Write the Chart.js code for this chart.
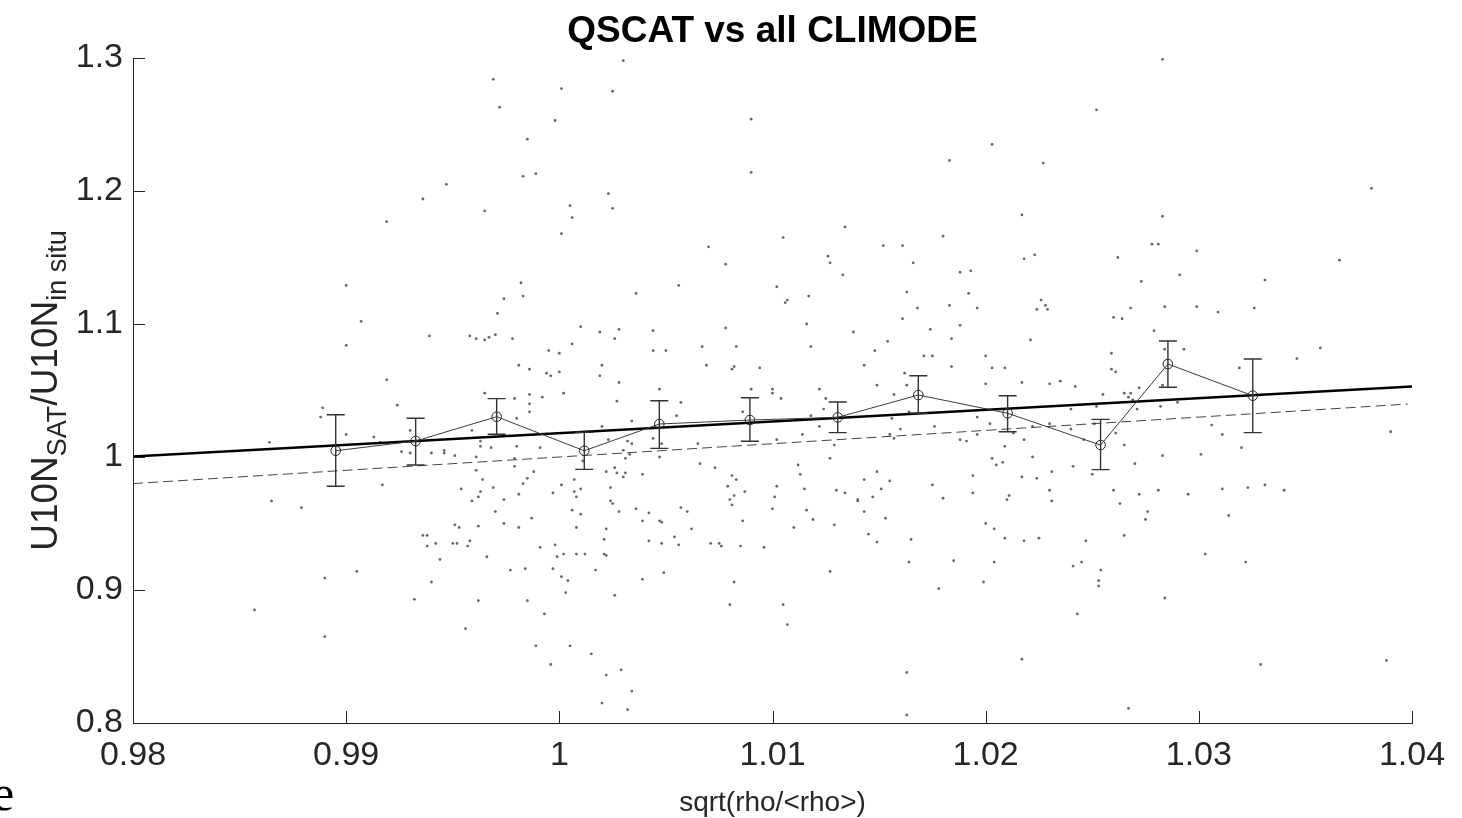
<!DOCTYPE html>
<html>
<head>
<meta charset="utf-8">
<script src="https://cdn.jsdelivr.net/npm/chart.js@4.4.1/dist/chart.umd.min.js"></script>
<style>
  body { margin: 0; background: #fff; }
</style>
</head>
<body>
<canvas id="myChart" width="1462" height="818"></canvas>
<script>
// tick values
const xTicks = [0.98, 0.99, 1, 1.01, 1.02, 1.03, 1.04];
const yTicks = [0.8, 0.9, 1, 1.1, 1.2, 1.3];

// individual collocations [sqrt(rho/<rho>), U10N ratio]
const scatterPts = [
  [0.9969,1.284],[1.0001,1.277],[0.9972,1.263],[0.9998,1.253],[0.9985,1.239],[0.9983,1.211],[0.9989,1.213],[0.9947,1.205],
  [0.9936,1.194],[0.9919,1.177],[0.9965,1.185],[1.0005,1.189],[1.0006,1.180],[1.0001,1.168],[0.9900,1.129],[0.9907,1.102],
  [0.9900,1.084],[0.9982,1.131],[0.9974,1.119],[0.9983,1.121],[0.9971,1.108],[0.9939,1.091],[0.9958,1.091],[0.9961,1.089],
  [0.9965,1.088],[0.9967,1.090],[0.9970,1.092],[0.9978,1.089],[0.9995,1.080],[1.0000,1.078],[1.0006,1.085],[0.9981,1.069],
  [0.9986,1.066],[0.9994,1.063],[0.9996,1.061],[1.0000,1.064],
  [1.0030,1.298],[1.0025,1.275],[1.0090,1.254],[1.0090,1.214],[1.0023,1.198],[1.0025,1.187],[1.0203,1.235],[1.0183,1.223],
  [1.0134,1.173],[1.0105,1.165],[1.0070,1.158],[1.0078,1.145],[1.0126,1.151],[1.0127,1.146],[1.0133,1.137],[1.0152,1.159],
  [1.0161,1.159],[1.0166,1.146],[1.0180,1.166],[1.0188,1.139],[1.0193,1.140],[1.0056,1.129],[1.0036,1.123],[1.0102,1.128],
  [1.0107,1.118],[1.0106,1.116],[1.0117,1.121],[1.0163,1.124],[1.0168,1.112],[1.0183,1.114],[1.0192,1.123],[1.0196,1.112],
  [1.0010,1.098],[1.0019,1.094],[1.0028,1.096],[1.0026,1.089],[1.0044,1.095],[1.0044,1.080],[1.0050,1.080],[1.0067,1.083],
  [1.0083,1.083],[1.0078,1.097],[1.0116,1.100],[1.0118,1.083],[1.0138,1.094],[1.0161,1.104],[1.0174,1.096],[1.0188,1.099],
  [1.0184,1.089],[1.0154,1.087],[1.0148,1.080],[1.0200,1.076],[1.0171,1.076],[1.0175,1.076],[1.0020,1.069],[1.0019,1.061],
  [1.0069,1.069],[1.0082,1.068],[1.0081,1.066],[1.0094,1.067],[1.0143,1.069],[1.0162,1.063],[1.0184,1.068],[1.0203,1.067],
  [1.0283,1.299],[1.0252,1.261],[1.0227,1.221],[1.0381,1.202],[1.0217,1.182],[1.0283,1.181],[1.0278,1.160],[1.0281,1.160],
  [1.0299,1.155],[1.0218,1.149],[1.0223,1.152],[1.0262,1.150],[1.0366,1.148],[1.0291,1.137],[1.0273,1.132],[1.0331,1.133],
  [1.0226,1.118],[1.0228,1.114],[1.0224,1.111],[1.0229,1.111],[1.0268,1.112],[1.0284,1.113],[1.0299,1.113],[1.0309,1.109],
  [1.0326,1.112],[1.0260,1.105],[1.0264,1.104],[1.0279,1.095],[1.0221,1.088],[1.0259,1.078],[1.0293,1.081],[1.0357,1.082],
  [1.0346,1.074],[1.0209,1.067],[1.0259,1.066],[1.0261,1.064],[1.0319,1.067],[1.0284,1.081],
  [0.9919,1.058],[0.9965,1.048],[0.9979,1.044],[0.9986,1.047],[0.9992,1.045],[1.0002,1.048],[0.9986,1.040],[0.9986,1.034],
  [0.9889,1.037],[0.9888,1.030],[0.9924,1.039],[0.9900,1.017],[0.9913,1.015],[0.9916,1.011],[0.9930,1.020],[0.9926,1.004],
  [0.9930,1.003],[0.9940,1.003],[0.9946,1.005],[0.9946,1.003],[0.9951,1.001],[0.9959,1.020],[0.9963,1.012],[0.9963,1.008],
  [0.9968,1.007],[0.9980,1.008],[0.9980,1.029],[0.9991,1.007],[0.9864,1.011],
  [0.9961,1.000],[0.9979,0.999],[0.9979,0.993],[0.9988,0.989],[0.9961,0.990],[0.9964,0.983],[0.9963,0.974],[0.9962,0.970],
  [0.9959,0.967],[0.9954,0.976],[0.9969,0.977],[0.9974,0.968],[0.9970,0.959],[0.9985,0.984],[0.9983,0.980],[0.9981,0.972],
  [1.0001,0.979],[0.9997,0.973],[1.0007,0.983],[1.0007,0.974],[1.0008,0.970],[1.0006,0.960],[1.0008,0.947],[0.9987,0.954],
  [0.9974,0.950],[0.9981,0.947],[0.9962,0.948],[0.9951,0.949],[0.9953,0.947],[0.9936,0.941],[0.9938,0.941],[0.9938,0.933],
  [0.9942,0.935],[0.9950,0.935],[0.9952,0.935],[0.9958,0.937],[0.9957,0.933],[0.9944,0.923],[0.9966,0.925],[0.9991,0.932],
  [0.9998,0.934],[0.9999,0.925],[1.0002,0.927],[1.0008,0.927],[0.9977,0.915],[0.9984,0.916],[0.9997,0.916],[1.0001,0.910],
  [1.0004,0.907],[1.0003,0.898],[0.9865,0.967],[0.9879,0.962],[0.9917,0.979],[0.9890,0.909],[0.9905,0.914],[0.9940,0.906],
  [0.9932,0.893],[0.9962,0.892],[0.9985,0.892],[0.9993,0.882],[0.9857,0.885],[0.9890,0.865],[0.9956,0.871],[0.9989,0.858],
  [1.0005,0.858],[0.9996,0.844],
  [1.0028,1.056],[1.0047,1.051],[1.0027,1.042],[1.0057,1.041],[1.0055,1.031],[1.0034,1.027],[1.0020,1.023],[1.0023,1.013],
  [1.0032,1.012],[1.0034,1.010],[1.0030,1.005],[1.0033,1.002],[1.0031,0.999],[1.0044,1.014],[1.0048,1.010],[1.0047,1.000],
  [1.0011,0.997],[1.0010,0.976],[1.0010,0.957],[1.0022,0.989],[1.0026,0.992],[1.0027,0.988],[1.0030,0.985],[1.0031,0.988],
  [1.0039,0.987],[1.0024,0.977],[1.0024,0.967],[1.0025,0.965],[1.0028,0.959],[1.0036,0.961],[1.0042,0.958],[1.0039,0.952],
  [1.0047,0.952],[1.0048,0.951],[1.0057,0.962],[1.0060,0.959],[1.0062,0.946],[1.0022,0.946],[1.0021,0.938],[1.0021,0.927],
  [1.0022,0.926],[1.0012,0.927],[1.0017,0.915],[1.0042,0.937],[1.0048,0.935],[1.0054,0.940],[1.0056,0.934],[1.0026,0.896],
  [1.0039,0.908],[1.0049,0.913],[1.0015,0.852],[1.0022,0.836],[1.0029,0.840],[1.0034,0.824],[1.0020,0.815],[1.0032,0.810],
  [1.0066,0.995],[1.0073,0.992],[1.0065,1.010],[1.0081,0.986],[1.0083,0.983],[1.0079,0.978],[1.0082,0.971],[1.0080,0.968],
  [1.0081,0.964],[1.0087,0.974],[1.0086,0.952],[1.0071,0.935],[1.0075,0.935],[1.0076,0.933],[1.0085,0.933],[1.0096,0.932],
  [1.0082,0.906],[1.0080,0.889],[1.0105,0.889],[1.0107,0.874],[1.0090,1.051],[1.0100,1.051],[1.0100,1.048],[1.0104,1.044],
  [1.0122,1.051],[1.0125,1.044],[1.0124,1.036],[1.0122,1.023],[1.0118,1.031],[1.0086,1.034],[1.0102,1.013],[1.0114,1.017],
  [1.0129,1.009],[1.0127,0.999],[1.0112,0.994],[1.0113,0.987],[1.0102,0.978],[1.0101,0.970],[1.0115,0.976],[1.0100,0.961],
  [1.0116,0.960],[1.0119,0.953],[1.0110,0.947],[1.0129,0.949],[1.0127,0.914],[1.0130,0.975],[1.0134,0.973],[1.0140,0.968],
  [1.0140,0.967],[1.0143,0.983],[1.0149,0.989],[1.0147,0.970],[1.0151,0.976],[1.0155,0.982],[1.0143,0.959],[1.0153,0.954],
  [1.0145,0.942],[1.0149,0.936],[1.0165,0.938],[1.0164,0.921],[1.0185,0.922],[1.0178,0.901],[1.0199,0.906],[1.0204,0.921],
  [1.0194,0.986],[1.0194,0.973],[1.0175,0.979],[1.0180,0.969],[1.0200,0.950],[1.0204,0.946],[1.0203,0.999],[1.0205,0.994],
  [1.0163,0.838],[1.0163,0.806],[1.0149,1.054],[1.0163,1.054],[1.0157,1.047],[1.0200,1.055],[1.0196,1.030],[1.0202,1.025],
  [1.0176,1.023],[1.0164,1.034],[1.0156,1.029],[1.0160,1.021],[1.0157,1.014],[1.0188,1.013],[1.0191,1.012],[1.0196,1.017],
  [1.0155,1.017],
  [1.0217,1.056],[1.0230,1.055],[1.0235,1.057],[1.0242,1.053],[1.0255,1.047],[1.0265,1.048],[1.0267,1.045],[1.0268,1.048],
  [1.0269,1.043],[1.0272,1.052],[1.0283,1.054],[1.0240,1.036],[1.0252,1.038],[1.0251,1.025],[1.0230,1.025],[1.0240,1.021],
  [1.0222,1.023],[1.0213,1.018],[1.0218,1.013],[1.0209,1.008],[1.0246,1.013],[1.0265,1.009],[1.0261,1.018],[1.0271,1.036],
  [1.0282,1.038],[1.0290,1.041],[1.0222,1.000],[1.0208,0.996],[1.0241,0.993],[1.0231,0.989],[1.0217,0.985],[1.0224,0.984],
  [1.0250,0.987],[1.0270,0.995],[1.0283,1.001],[1.0301,1.002],[1.0306,1.024],[1.0311,1.017],[1.0320,1.007],[1.0390,1.019],
  [1.0230,0.975],[1.0211,0.971],[1.0210,0.968],[1.0231,0.967],[1.0260,0.975],[1.0272,0.972],[1.0281,0.975],[1.0295,0.972],
  [1.0311,0.976],[1.0323,0.977],[1.0331,0.979],[1.0340,0.975],[1.0263,0.965],[1.0276,0.959],[1.0275,0.953],[1.0314,0.956],
  [1.0209,0.939],[1.0218,0.937],[1.0225,0.939],[1.0247,0.937],[1.0265,0.941],[1.0303,0.927],[1.0322,0.921],[1.0241,0.918],
  [1.0245,0.921],[1.0254,0.915],[1.0253,0.907],[1.0253,0.903],[1.0284,0.894],[1.0243,0.882],[1.0217,0.848],[1.0329,0.844],
  [1.0388,0.847],[1.0267,0.811]
];

// bin averages with error bar limits
const binX  = [0.98951, 0.99326, 0.99706, 1.00117, 1.00469, 1.00894, 1.01306, 1.01684, 1.02103, 1.02539, 1.02855, 1.03253];
const binY  = [1.0047, 1.0120, 1.0303, 1.0047, 1.0248, 1.0278, 1.0298, 1.0466, 1.0329, 1.0090, 1.0699, 1.0461];
const binLo = [0.9780, 0.9940, 1.0171, 0.9907, 1.0065, 1.0118, 1.0183, 1.0329, 1.0190, 0.9905, 1.0524, 1.0183];
const binHi = [1.0318, 1.0291, 1.0439, 1.0186, 1.0423, 1.0446, 1.0414, 1.0611, 1.0461, 1.0283, 1.0872, 1.0737];

// regression line and 1:1 line
const fitX = [0.98, 1.04];
const fitY = [1.0003, 1.0530];
const refX = [0.98, 1.0398];
const refY = [0.98, 1.0398];

const FONT = '"Liberation Sans", Arial, Helvetica, sans-serif';
const TXT = '#262626';

const extras = {
  id: 'extras',
  afterDatasetsDraw(chart) {
    const ctx = chart.ctx;
    const xs = chart.scales.x, ys = chart.scales.y;
    ctx.save();
    ctx.strokeStyle = '#333';
    ctx.lineWidth = 1.4;
    binX.forEach(function (bx, i) {
      const px = xs.getPixelForValue(bx);
      const lo = ys.getPixelForValue(binLo[i]);
      const hi = ys.getPixelForValue(binHi[i]);
      ctx.beginPath();
      ctx.moveTo(px, lo); ctx.lineTo(px, hi);
      ctx.moveTo(px - 9, lo); ctx.lineTo(px + 9, lo);
      ctx.moveTo(px - 9, hi); ctx.lineTo(px + 9, hi);
      ctx.stroke();
    });
    ctx.restore();
  },
  afterDraw(chart) {
    const ctx = chart.ctx;
    const xs = chart.scales.x, ys = chart.scales.y;
    const a = chart.chartArea;
    ctx.save();
    // inward tick marks
    ctx.strokeStyle = TXT;
    ctx.lineWidth = 1;
    ctx.beginPath();
    xTicks.forEach(function (v) {
      const px = Math.round(xs.getPixelForValue(v)) + 0.5;
      ctx.moveTo(px, a.bottom); ctx.lineTo(px, a.bottom - 12);
    });
    yTicks.forEach(function (v) {
      const py = Math.round(ys.getPixelForValue(v)) + 0.5;
      ctx.moveTo(a.left, py); ctx.lineTo(a.left + 12, py);
    });
    ctx.stroke();

    // title
    const cx = (a.left + a.right) / 2;
    ctx.fillStyle = '#000';
    ctx.textAlign = 'center';
    ctx.textBaseline = 'alphabetic';
    ctx.font = 'bold 37px ' + FONT;
    ctx.fillText('QSCAT vs all CLIMODE', cx, 42);

    // x label
    ctx.fillStyle = TXT;
    ctx.font = '28px ' + FONT;
    ctx.fillText('sqrt(rho/<rho>)', cx, 811);

    // y label with subscripts
    const cy = (a.top + a.bottom) / 2;
    const parts = [
      ['U10N', '37px ' + FONT, 0],
      ['SAT', '27px ' + FONT, 9],
      ['/U10N', '37px ' + FONT, 0],
      ['in situ', '27px ' + FONT, 9]
    ];
    ctx.translate(57, cy);
    ctx.rotate(-Math.PI / 2);
    ctx.textAlign = 'left';
    let total = 0;
    parts.forEach(function (p) { ctx.font = p[1]; total += ctx.measureText(p[0]).width; });
    let x = -total / 2;
    parts.forEach(function (p) {
      ctx.font = p[1];
      ctx.fillText(p[0], x, p[2]);
      x += ctx.measureText(p[0]).width;
    });
    ctx.restore();

    // stray letter at bottom-left of the page
    ctx.save();
    ctx.fillStyle = '#000';
    ctx.font = '50px "Liberation Serif", "Times New Roman", serif';
    ctx.textAlign = 'left';
    ctx.fillText('e', -8, 810);
    ctx.restore();
  }
};

const ctx = document.getElementById('myChart');
new Chart(ctx, {
  type: 'scatter',
  data: {
    datasets: [
      {
        label: 'bins',
        type: 'line',
        data: binX.map(function (v, i) { return { x: v, y: binY[i] }; }),
        borderColor: '#3c3c3c',
        borderWidth: 1,
        pointRadius: 4.8,
        pointBackgroundColor: 'rgba(0,0,0,0)',
        pointBorderColor: '#222',
        pointBorderWidth: 1,
        fill: false,
        tension: 0,
        order: 1
      },
      {
        label: 'fit',
        type: 'line',
        data: fitX.map(function (v, i) { return { x: v, y: fitY[i] }; }),
        borderColor: '#000',
        borderWidth: 2.5,
        pointRadius: 0,
        fill: false,
        order: 2
      },
      {
        label: 'one to one',
        type: 'line',
        data: refX.map(function (v, i) { return { x: v, y: refY[i] }; }),
        borderColor: '#444',
        borderWidth: 1,
        borderDash: [10, 5],
        pointRadius: 0,
        fill: false,
        order: 3
      },
      {
        label: 'data',
        data: scatterPts.map(function (p) { return { x: p[0], y: p[1] }; }),
        pointRadius: 1.4,
        pointBackgroundColor: '#666',
        pointBorderWidth: 0,
        order: 4
      }
    ]
  },
  options: {
    responsive: false,
    animation: false,
    devicePixelRatio: 1,
    layout: {
      padding: { top: 58, right: 50, left: 0, bottom: 0 },
      autoPadding: false
    },
    plugins: {
      legend: { display: false },
      tooltip: { enabled: false },
      title: { display: false }
    },
    scales: {
      x: {
        type: 'linear',
        min: 0.98,
        max: 1.04,
        afterBuildTicks: function (s) { s.ticks = xTicks.map(function (v) { return { value: v }; }); },
        afterFit: function (s) { s.height = 95; },
        grid: { display: false, drawTicks: false },
        border: { display: true, color: TXT, width: 1 },
        ticks: {
          padding: 12,
          color: TXT,
          maxRotation: 0,
          autoSkip: false,
          font: { family: FONT, size: 34 },
          callback: function (v) { return String(v); }
        }
      },
      y: {
        type: 'linear',
        min: 0.8,
        max: 1.3,
        afterBuildTicks: function (s) { s.ticks = yTicks.map(function (v) { return { value: v }; }); },
        afterFit: function (s) { s.width = 133; },
        grid: { display: false, drawTicks: false },
        border: { display: true, color: TXT, width: 1 },
        ticks: {
          padding: 10,
          color: TXT,
          autoSkip: false,
          font: { family: FONT, size: 34 },
          callback: function (v) { return String(v); }
        }
      }
    }
  },
  plugins: [extras]
});
</script>
</body>
</html>
